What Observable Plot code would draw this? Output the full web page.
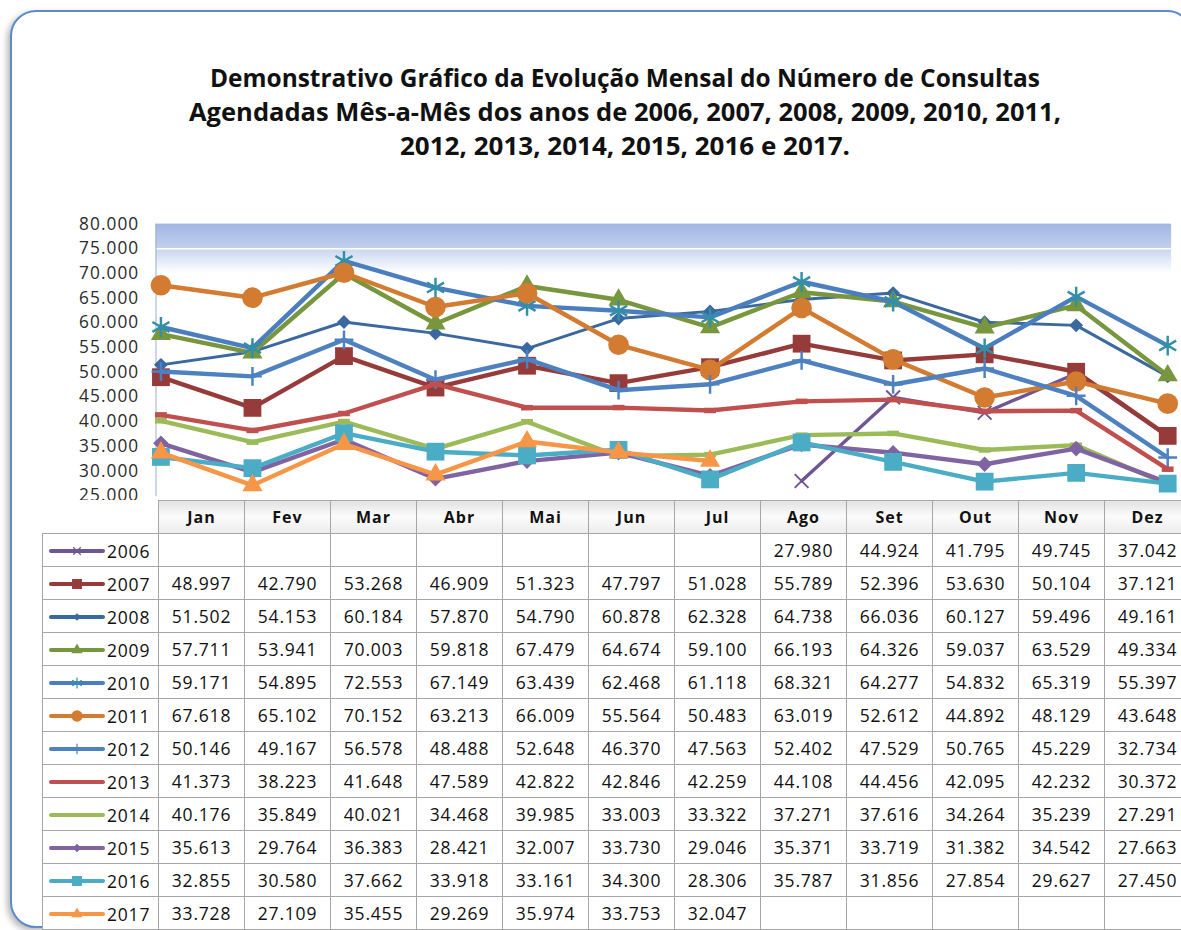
<!DOCTYPE html>
<html lang="pt-BR">
<head>
<meta charset="utf-8">
<script src="https://cdn.jsdelivr.net/npm/d3@7"></script>
<script src="https://cdn.jsdelivr.net/npm/@observablehq/plot@0.6"></script>
<style>
  html, body { margin: 0; padding: 0; background: #fff; }
  body { width: 1181px; height: 930px; overflow: hidden; position: relative; font-family: "Open Sans", sans-serif; }
  #frame {
    position: absolute; left: 10px; top: 10px; width: 1183px; height: 918px;
    border: 2.5px solid #5b8bcb; border-radius: 26px; box-sizing: border-box;
    box-shadow: -3px 3px 6px rgba(0, 0, 0, 0.28); background: #fff;
  }
  #title { position: absolute; left: 0; top: 0; }
  #chart { position: absolute; left: 0; top: 200px; }
  #chart text { letter-spacing: 1.1px; }
  #table {
    position: absolute; left: 42px; top: 500px; width: 1148px;
    border-collapse: collapse; table-layout: fixed; background: #fff;
    font-family: "Open Sans", sans-serif; color: #111;
  }
  #table th, #table td { border: 1px solid #a6a6a6; padding: 0; height: 32px; }
  #table th {
    font-size: 16px; font-weight: 700; letter-spacing: 1px;
    background: linear-gradient(#e2e2e2, #fbfbfb 45%, #ececec);
  }
  #table th.corner { border: none; background: #fff; }
  #table td { font-size: 17.5px; letter-spacing: 0.8px; text-align: center; }
  #table td.key { text-align: left; padding-left: 5px; white-space: nowrap; }
  #table td.key svg { vertical-align: middle; }
  #table td.key span { vertical-align: middle; margin-left: 1px; }
</style>
</head>
<body>
<div id="frame"></div>
<svg width="0" height="0" style="position:absolute">
  <defs>
    <linearGradient id="bandTop" x1="0" y1="0" x2="0" y2="1">
      <stop offset="0" stop-color="#a0b6e3"/>
      <stop offset="1" stop-color="#c2d0ee"/>
    </linearGradient>
    <linearGradient id="bandLow" x1="0" y1="0" x2="0" y2="1">
      <stop offset="0" stop-color="#c8d5f0"/>
      <stop offset="0.55" stop-color="#e6ecf8"/>
      <stop offset="1" stop-color="#ffffff"/>
    </linearGradient>
  </defs>
</svg>
<svg id="title" width="1181" height="180"></svg>
<div id="chart"></div>
<table id="table"></table>
<script>
// Meses e anos
const months = ["Jan", "Fev", "Mar", "Abr", "Mai", "Jun", "Jul", "Ago", "Set", "Out", "Nov", "Dez"];
const years = ["2006", "2007", "2008", "2009", "2010", "2011", "2012", "2013", "2014", "2015", "2016", "2017"];

// Consultas agendadas por mês (null = sem dado)
const v2006 = [null, null, null, null, null, null, null, 27980, 44924, 41795, 49745, 37042];
const v2007 = [48997, 42790, 53268, 46909, 51323, 47797, 51028, 55789, 52396, 53630, 50104, 37121];
const v2008 = [51502, 54153, 60184, 57870, 54790, 60878, 62328, 64738, 66036, 60127, 59496, 49161];
const v2009 = [57711, 53941, 70003, 59818, 67479, 64674, 59100, 66193, 64326, 59037, 63529, 49334];
const v2010 = [59171, 54895, 72553, 67149, 63439, 62468, 61118, 68321, 64277, 54832, 65319, 55397];
const v2011 = [67618, 65102, 70152, 63213, 66009, 55564, 50483, 63019, 52612, 44892, 48129, 43648];
const v2012 = [50146, 49167, 56578, 48488, 52648, 46370, 47563, 52402, 47529, 50765, 45229, 32734];
const v2013 = [41373, 38223, 41648, 47589, 42822, 42846, 42259, 44108, 44456, 42095, 42232, 30372];
const v2014 = [40176, 35849, 40021, 34468, 39985, 33003, 33322, 37271, 37616, 34264, 35239, 27291];
const v2015 = [35613, 29764, 36383, 28421, 32007, 33730, 29046, 35371, 33719, 31382, 34542, 27663];
const v2016 = [32855, 30580, 37662, 33918, 33161, 34300, 28306, 35787, 31856, 27854, 29627, 27450];
const v2017 = [33728, 27109, 35455, 29269, 35974, 33753, 32047, null, null, null, null, null];

const seriesValues = [v2006, v2007, v2008, v2009, v2010, v2011, v2012, v2013, v2014, v2015, v2016, v2017];

// Eixo Y
const yTicks = [25000, 30000, 35000, 40000, 45000, 50000, 55000, 60000, 65000, 70000, 75000, 80000];

const titleLines = [
  "Demonstrativo Gráfico da Evolução Mensal do Número de Consultas",
  "Agendadas Mês-a-Mês dos anos de 2006, 2007, 2008, 2009, 2010, 2011,",
  "2012, 2013, 2014, 2015, 2016 e 2017."
];

// Marcador "traço" curto (linhas sem símbolo)
const dash = { draw(ctx) { ctx.rect(-6, -2.8, 12, 5.6); } };

// Aparência de cada série
const styles = {
  "2006": { line: "#6e5693", width: 3.5, symbol: "times",    marker: "#6e5693", r: 6.4, filled: false, mw: 2 },
  "2007": { line: "#963b39", width: 4.5, symbol: "square",   marker: "#963b39", r: 10.2, filled: true },
  "2008": { line: "#3b689f", width: 3,   symbol: "square",   marker: "#3b689f", r: 5.6, filled: true, rotate: 45 },
  "2009": { line: "#77963d", width: 4.5, symbol: "triangle", marker: "#77963d", r: 7.6, filled: true },
  "2010": { line: "#4a7ebe", width: 4.5, symbol: "asterisk", marker: "#3190a8", r: 9.5, filled: false, mw: 2.5 },
  "2011": { line: "#d27b31", width: 4.5, symbol: "circle",   marker: "#d27b31", r: 10.5, filled: true },
  "2012": { line: "#4e81c0", width: 4.5, symbol: "plus",     marker: "#4e81c0", r: 6.2, filled: false, mw: 2.5 },
  "2013": { line: "#c0504d", width: 4.5, symbol: dash,       marker: "#c0504d", r: 4, filled: true },
  "2014": { line: "#9bbb59", width: 4.5, symbol: dash,       marker: "#9bbb59", r: 4, filled: true },
  "2015": { line: "#8064a2", width: 4.5, symbol: "square",   marker: "#8064a2", r: 6.3, filled: true, rotate: 45 },
  "2016": { line: "#4bacc6", width: 4.5, symbol: "square",   marker: "#4bacc6", r: 10.2, filled: true },
  "2017": { line: "#f79646", width: 4.5, symbol: "triangle", marker: "#f79646", r: 7.6, filled: true }
};

const fmt = d3.formatLocale({ decimal: ",", thousands: ".", grouping: [3], currency: ["R$", ""] }).format(",d");

const rows = years.flatMap((yr, i) => months.map((m, j) => ({ year: yr, month: m, value: seriesValues[i][j] })));

// Título
const title = d3.select("#title");
const titleWidths = [830, 872, 450];
titleLines.forEach((t, i) => {
  title.append("text")
    .attr("x", 625).attr("y", 87 + i * 34)
    .attr("text-anchor", "middle")
    .attr("font-family", "Open Sans, sans-serif")
    .attr("font-weight", 700).attr("font-size", 25)
    .attr("fill", "#111")
    .attr("textLength", titleWidths[i]).attr("lengthAdjust", "spacingAndGlyphs")
    .text(t);
});

// Gráfico de linhas
const marks = [
  Plot.rect([{ lo: 75000, hi: 80000 }], { y1: "lo", y2: "hi", fill: "url(#bandTop)" }),
  Plot.rect([{ lo: 70000, hi: 75000 }], { y1: "lo", y2: "hi", fill: "url(#bandLow)" }),
  Plot.ruleY([75000], { stroke: "#ffffff", strokeWidth: 1.5 }),
  Plot.frame({ anchor: "left", stroke: "#97acd2" }),
  Plot.axisY(yTicks, { tickFormat: fmt, tickSize: 0, tickPadding: 17, fill: "#2a2a2a", fontSize: 17.5 })
];
for (const yr of years) {
  const st = styles[yr];
  const d = rows.filter(r => r.year === yr);
  marks.push(Plot.line(d, {
    x: "month", y: "value", stroke: st.line, strokeWidth: st.width,
    strokeLinejoin: "round", strokeLinecap: "round"
  }));
  marks.push(Plot.dot(d.filter(r => r.value != null), {
    x: "month", y: "value", symbol: st.symbol, r: st.r,
    fill: st.filled ? st.marker : "none",
    stroke: st.filled ? "none" : st.marker,
    strokeWidth: st.mw || 1,
    rotate: st.rotate || 0
  }));
}

const chart = Plot.plot({
  width: 1200, height: 310,
  marginTop: 24, marginBottom: 10, marginLeft: 158, marginRight: 10,
  style: { background: "transparent", fontFamily: "Open Sans, sans-serif", fontSize: "17px", overflow: "visible" },
  x: { domain: months, padding: 0, axis: null },
  y: { domain: [25000, 80000], axis: null },
  marks
});
document.getElementById("chart").appendChild(chart);

// Tabela de dados com as chaves da legenda
const symbolMap = {
  times: d3.symbolTimes, square: d3.symbolSquare, triangle: d3.symbolTriangle,
  asterisk: d3.symbolAsterisk, circle: d3.symbolCircle, plus: d3.symbolPlus
};
function keySwatch(st) {
  const svg = d3.create("svg").attr("width", 58).attr("height", 18);
  svg.append("line").attr("x1", 3).attr("x2", 55).attr("y1", 9).attr("y2", 9)
    .attr("stroke", st.line).attr("stroke-width", 4).attr("stroke-linecap", "round");
  if (typeof st.symbol === "string") {
    const area = Math.PI * (st.r * 0.55) ** 2;
    svg.append("path")
      .attr("transform", `translate(29,9) rotate(${st.rotate || 0})`)
      .attr("d", d3.symbol(symbolMap[st.symbol], area)())
      .attr("fill", st.filled ? st.marker : "none")
      .attr("stroke", st.filled ? "none" : st.marker)
      .attr("stroke-width", st.filled ? 0 : 1.2);
  }
  return svg.node();
}

const table = d3.select("#table");
const colgroup = table.append("colgroup");
colgroup.append("col").style("width", "116px");
months.forEach(() => colgroup.append("col").style("width", "86px"));

const head = table.append("tr");
head.append("th").attr("class", "corner");
months.forEach(m => head.append("th").text(m));

years.forEach((yr, i) => {
  const tr = table.append("tr");
  const key = tr.append("td").attr("class", "key");
  key.node().appendChild(keySwatch(styles[yr]));
  key.append("span").text(yr);
  seriesValues[i].forEach(v => tr.append("td").text(v == null ? "" : fmt(v)));
});
</script>
</body>
</html>
